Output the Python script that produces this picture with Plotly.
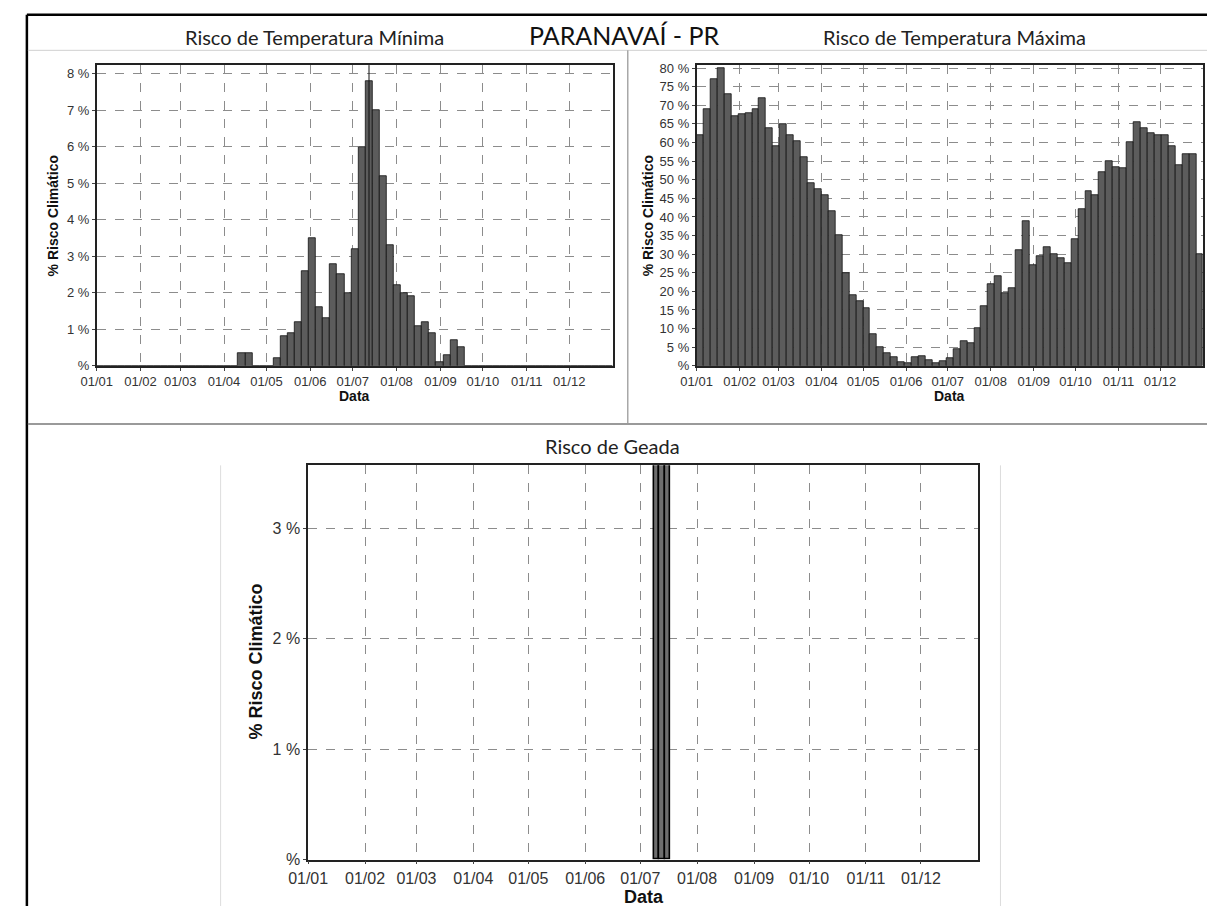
import numpy as np
import pandas as pd
import plotly.graph_objects as go

# ---------------- data (pentads: 73 five-day periods, Jan 1 .. Dec 31) ----------------
tmin_pct = [
    0, 0, 0, 0, 0, 0, 0, 0, 0, 0,
    0, 0, 0, 0, 0, 0, 0, 0, 0, 0,
    0.35, 0.35, 0, 0, 0, 0.2, 0.8, 0.9, 1.2, 2.6,
    3.5, 1.6, 1.3, 2.8, 2.5, 2.0, 3.2, 6.0, 7.8, 7.0,
    5.2, 3.3, 2.2, 2.0, 1.9, 1.1, 1.2, 0.9, 0.1, 0.3,
    0.7, 0.5, 0, 0, 0, 0, 0, 0, 0, 0,
    0, 0, 0, 0, 0, 0, 0, 0, 0, 0,
    0, 0, 0,
]
tmax_pct = [
    62, 69, 77, 80, 73, 67, 67.5, 68, 69, 72,
    64, 59, 65, 62, 60.5, 56, 49, 47.5, 46, 41.5,
    35, 25, 19, 17.5, 15.5, 8.5, 5, 3.5, 2.3, 1.0,
    0.8, 2.3, 2.5, 1.5, 0.7, 1.2, 2, 4.5, 6.5, 6,
    10, 16, 22, 24, 19.5, 21, 31, 39, 27, 29.5,
    32, 30, 29, 27.5, 34, 42, 47, 46, 52, 55,
    53.5, 53, 60, 65.5, 64, 62.5, 62, 62, 59, 54,
    57, 57, 30,
]
geada_dates = ["2023-07-10", "2023-07-13", "2023-07-16"]
geada_pct = [4.0, 4.0, 4.0]

month_labels = ["01/01", "01/02", "01/03", "01/04", "01/05", "01/06",
                "01/07", "01/08", "01/09", "01/10", "01/11", "01/12"]
tmin_ticks = [0, 1, 2, 3, 4, 5, 6, 7, 8]
tmin_ticktext = ["%", "1 %", "2 %", "3 %", "4 %", "5 %", "6 %", "7 %", "8 %"]
tmax_ticks = [0, 5, 10, 15, 20, 25, 30, 35, 40, 45, 50, 55, 60, 65, 70, 75, 80]
tmax_ticktext = ["%"] + [f"{v} %" for v in tmax_ticks[1:]]
geada_ticks = [0, 1, 2, 3]
geada_ticktext = ["%", "1 %", "2 %", "3 %"]

# ---------------- helpers ----------------
W, H = 1207, 915
base = pd.Timestamp("2023-01-01")
pent_centers = base + pd.to_timedelta(np.arange(len(tmin_pct)) * 5 + 2.5, unit="D")
month_vals = [pd.Timestamp(2023, m, 1) for m in range(1, 13)]
DAY = 86400000


def px(x):
    return x / W


def py(y):
    return 1 - y / H


fig = go.Figure()
fig.add_trace(go.Bar(x=pent_centers, y=tmin_pct, width=5 * DAY,
                     marker=dict(color="#5c5c5c", line=dict(color="#111", width=0.8)),
                     xaxis="x", yaxis="y", showlegend=False))
fig.add_trace(go.Bar(x=pent_centers, y=tmax_pct, width=5 * DAY,
                     marker=dict(color="#5c5c5c", line=dict(color="#111", width=0.8)),
                     xaxis="x2", yaxis="y2", showlegend=False))
fig.add_trace(go.Bar(x=pd.to_datetime(geada_dates), y=geada_pct, width=3 * DAY,
                     marker=dict(color="#6e6e6e", line=dict(color="#000", width=1.6)),
                     xaxis="x3", yaxis="y3", showlegend=False))


def xaxis(domain, anchor, size):
    return dict(domain=domain, anchor=anchor, type="date",
                range=["2023-01-01", "2023-12-31 23:59"],
                tickvals=month_vals, ticktext=month_labels,
                showgrid=True, gridcolor="#8c8c8c", griddash="dash", gridwidth=1,
                showline=True, linecolor="#222", linewidth=1.5, mirror=True,
                ticks="outside", ticklen=3, tickcolor="#444",
                tickfont=dict(family="Liberation Sans", size=size, color="#333"),
                zeroline=False, fixedrange=True)


def yaxis(domain, anchor, rng, vals, text, size):
    return dict(domain=domain, anchor=anchor, range=rng,
                tickvals=vals, ticktext=text,
                showgrid=True, gridcolor="#8c8c8c", griddash="dash", gridwidth=1,
                showline=True, linecolor="#222", linewidth=1.5, mirror=True,
                ticks="outside", ticklen=3, tickcolor="#444",
                tickfont=dict(family="Liberation Sans", size=size, color="#333"),
                zeroline=False, fixedrange=True)


top_dom = [py(367), py(62)]
fig.update_layout(
    width=W, height=H, margin=dict(l=0, r=0, t=0, b=0),
    paper_bgcolor="white", plot_bgcolor="white",
    bargap=0, showlegend=False,
    xaxis=xaxis([px(78), px(603)], "y", 13),
    yaxis=yaxis(top_dom, "x", [0, 8.24], tmin_ticks, tmin_ticktext, 13),
    xaxis2=xaxis([px(688), px(1203)], "y2", 13),
    yaxis2=yaxis(top_dom, "x2", [0, 80.8], tmax_ticks, tmax_ticktext, 13),
    xaxis3=xaxis([px(293), px(974)], "y3", 16),
    yaxis3=yaxis([py(868), py(468)], "x3", [0, 3.57], geada_ticks, geada_ticktext, 16),
)

# marker line at the Tmin maximum
imax = int(np.argmax(tmin_pct))
fig.add_shape(type="line", xref="x", yref="y domain", x0=pent_centers[imax], x1=pent_centers[imax],
              y0=0, y1=1, line=dict(color="#111", width=1))


# panel frame lines
def hline(y, x0, x1, color, width):
    fig.add_shape(type="line", xref="paper", yref="paper", x0=px(x0), x1=px(x1),
                  y0=py(y), y1=py(y), line=dict(color=color, width=width), layer="below")


def vline(x, y0, y1, color, width):
    fig.add_shape(type="line", xref="paper", yref="paper", x0=px(x), x1=px(x),
                  y0=py(y0), y1=py(y1), line=dict(color=color, width=width), layer="below")


hline(11, 7, 1207, "#000", 2.5)
vline(7, 11, 915, "#000", 2.5)
hline(47, 8, 1207, "#d0d0d0", 1)
vline(618, 47, 426, "#a8a8a8", 1.5)
hline(426, 8, 1207, "#9a9a9a", 2)
vline(204, 468, 915, "#dddddd", 1)
vline(997, 468, 915, "#dddddd", 1)

title_font = dict(family="Lato", size=20, color="#222")
ann = [
    dict(text="Risco de Temperatura Mínima", x=px(299), y=py(33), font=title_font),
    dict(text="PARANAVAÍ - PR", x=px(615), y=py(31), font=dict(family="Lato", size=25, color="#111")),
    dict(text="Risco de Temperatura Máxima", x=px(950), y=py(33), font=title_font),
    dict(text="Risco de Geada", x=px(602), y=py(448), font=title_font),
    dict(text="<b>% Risco Climático</b>", x=px(33), y=py(215), textangle=-90,
         font=dict(family="Liberation Sans", size=14, color="#111")),
    dict(text="<b>% Risco Climático</b>", x=px(639), y=py(215), textangle=-90,
         font=dict(family="Liberation Sans", size=14, color="#111")),
    dict(text="<b>% Risco Climático</b>", x=px(240), y=py(667), textangle=-90,
         font=dict(family="Liberation Sans", size=18, color="#111")),
    dict(text="<b>Data</b>", x=px(340), y=py(398),
         font=dict(family="Liberation Sans", size=14, color="#111")),
    dict(text="<b>Data</b>", x=px(945), y=py(398),
         font=dict(family="Liberation Sans", size=14, color="#111")),
    dict(text="<b>Data</b>", x=px(635), y=py(906),
         font=dict(family="Liberation Sans", size=18, color="#111")),
]
for a in ann:
    a.update(xref="paper", yref="paper", showarrow=False, xanchor="center", yanchor="middle")
fig.update_layout(annotations=ann)

fig.write_html("out.html", config={"displayModeBar": False},
               post_script="document.body.style.margin='0';document.body.style.overflow='hidden';")
